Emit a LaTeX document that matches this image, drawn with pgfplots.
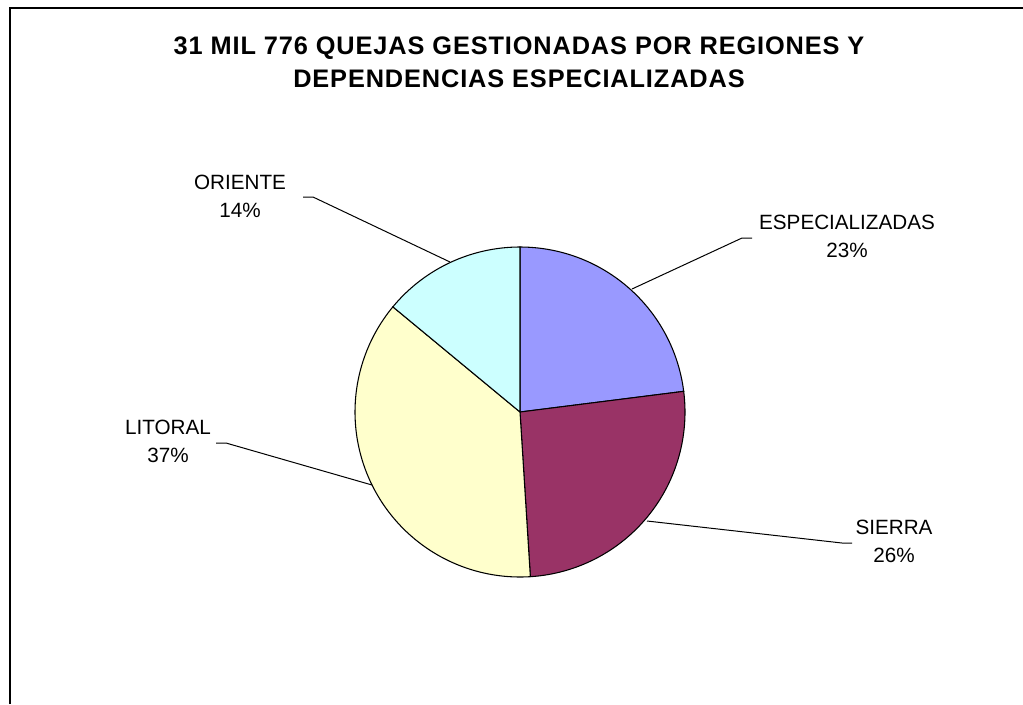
\documentclass[border=0pt]{standalone}
\usepackage{fontspec}
\setmainfont{Liberation Sans}
\newfontfamily\titlefont[LetterSpace=3.5]{Liberation Sans}
\usepackage{pgfplots}
\pgfplotsset{compat=1.18}
\definecolor{cEsp}{HTML}{9999FF}
\definecolor{cSie}{HTML}{993366}
\definecolor{cLit}{HTML}{FFFFCC}
\definecolor{cOri}{HTML}{CCFFFF}
% data (percent)
\def\vEsp{23}
\def\vSie{26}
\def\vLit{37}
\def\vOri{14}
\pgfmathsetmacro{\aA}{90}
\pgfmathsetmacro{\aB}{\aA-\vEsp*3.6}
\pgfmathsetmacro{\aC}{\aB-\vSie*3.6}
\pgfmathsetmacro{\aD}{\aC-\vLit*3.6}
\pgfmathsetmacro{\aE}{\aD-\vOri*3.6}
\begin{document}
\begin{tikzpicture}
\begin{axis}[hide axis, scale only axis, width=767.25pt, height=528pt,
  xmin=0, xmax=1023, ymin=0, ymax=704, y dir=reverse, clip=false,
  anchor=south west, at={(0pt,0pt)}]
\addplot[fill=cEsp, draw=black, line width=0.8pt, domain=\aB:\aA, samples=80] ({520+165*cos(x)},{412-165*sin(x)}) -- (axis cs:520,412) -- cycle;
\addplot[fill=cSie, draw=black, line width=0.8pt, domain=\aC:\aB, samples=80] ({520+165*cos(x)},{412-165*sin(x)}) -- (axis cs:520,412) -- cycle;
\addplot[fill=cLit, draw=black, line width=0.8pt, domain=\aD:\aC, samples=100] ({520+165*cos(x)},{412-165*sin(x)}) -- (axis cs:520,412) -- cycle;
\addplot[fill=cOri, draw=black, line width=0.8pt, domain=\aE:\aD, samples=60] ({520+165*cos(x)},{412-165*sin(x)}) -- (axis cs:520,412) -- cycle;
% frame
\draw[line width=1.5pt] (axis cs:9.5,704) -- (axis cs:9.5,7.5) -- (axis cs:1023,7.5);
% title
\node[align=center, font=\titlefont\bfseries\fontsize{19}{25}\selectfont] at (axis cs:519,62) {31 MIL 776 QUEJAS GESTIONADAS POR REGIONES Y\\DEPENDENCIAS ESPECIALIZADAS};
% leader lines
\draw[line width=0.75pt] (axis cs:303,197) -- (axis cs:313,197) -- (axis cs:450,262);
\draw[line width=0.75pt] (axis cs:752,238) -- (axis cs:742,238) -- (axis cs:632,289);
\draw[line width=0.75pt] (axis cs:216,443) -- (axis cs:226,443) -- (axis cs:372,485);
\draw[line width=0.75pt] (axis cs:647,521) -- (axis cs:842,543) -- (axis cs:852,543);
% labels
\node[align=center, font=\fontsize{15.5}{21}\selectfont] at (axis cs:240,196) {ORIENTE\\\vOri\%};
\node[align=center, font=\fontsize{15.5}{21}\selectfont] at (axis cs:847,236) {ESPECIALIZADAS\\\vEsp\%};
\node[align=center, font=\fontsize{15.5}{21}\selectfont] at (axis cs:168,441) {LITORAL\\\vLit\%};
\node[align=center, font=\fontsize{15.5}{21}\selectfont] at (axis cs:894,541) {SIERRA\\\vSie\%};
\end{axis}
\pgfresetboundingbox
\useasboundingbox (0pt,0pt) rectangle (767.25pt,528pt);
\end{tikzpicture}
\end{document}
